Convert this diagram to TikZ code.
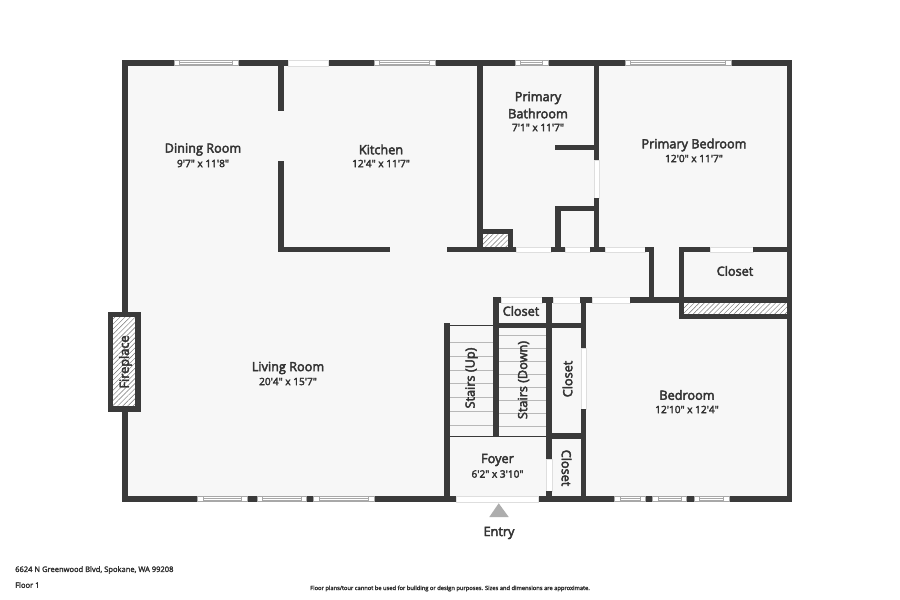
\documentclass[tikz,border=0pt]{standalone}
\usepackage{fontspec}
\usetikzlibrary{patterns.meta}
\newfontfamily\ofontb{Open Sans}
\definecolor{wallc}{HTML}{3A3A3A}
\definecolor{floorc}{HTML}{F7F7F7}
\definecolor{txtc}{HTML}{333333}
\definecolor{trimc}{HTML}{A8A8A8}
\tikzset{
  wallfill/.style={fill=wallc},
  opening/.style={fill=white,draw=black!13,line width=.4pt},
  hatchbox/.style={pattern={Lines[angle=45,distance=3.6pt,line width=.45pt]},pattern color=black!55},
  tread/.style={draw=black!28,line width=.8pt},
  wintrim/.style={draw=trimc,line width=.5pt},
  heavy/.style={execute at begin node={\special{pdf:code 0.2 G 2 Tr #1 w}},execute at end node={\special{pdf:code 0 Tr}}},
  roomname/.style={inner sep=0pt,text=txtc,heavy=0.42,font=\ofontb\fontsize{12.7}{14}\selectfont,align=center},
  roomdim/.style={inner sep=0pt,text=txtc,heavy=0.3,font=\ofontb\fontsize{10.1}{12}\selectfont},
  footer/.style={inner sep=0pt,text=txtc,heavy=0.2,font=\ofontb\fontsize{7.55}{8}\selectfont},
}
\newcommand{\wl}[4]{\fill[wallfill] (#1,#2) rectangle (#3,#4);}
\newcommand{\opn}[4]{\path[opening] (#1,#2) rectangle (#3,#4);}
% horizontal window: x1 x2 ytop
\newcommand{\hwin}[3]{%
  \fill[white] (#1,#3) rectangle (#2,#3+5.7);
  \draw[wintrim] (#1,#3) rectangle (#2,#3+5.7);
  \draw[wintrim] (#1+5.5,#3+1.8) -- (#2-5.5,#3+1.8) (#1+5.5,#3+3.9) -- (#2-5.5,#3+3.9);
  \draw[wintrim] (#1+5.5,#3) -- (#1+5.5,#3+5.7) (#2-5.5,#3) -- (#2-5.5,#3+5.7);
}
\begin{document}
\begin{tikzpicture}[x=1pt,y=-1pt]
\useasboundingbox (0,0) rectangle (900,600);
\fill[white] (0,0) rectangle (900,600);
% floor
\fill[floorc] (125,63) rectangle (789,499);
% fireplace
\fill[white] (113,317) rectangle (135,406);
\fill[hatchbox] (113,317) rectangle (135,406);
\wl{107.7}{311.7}{113.2}{411.7}
\wl{135.2}{311.7}{140.7}{411.7}
\wl{107.7}{311.7}{140.7}{317.2}
\wl{107.7}{406.2}{140.7}{411.7}
% outer walls
\wl{122.3}{60}{792.3}{65.7}
\wl{122.3}{60}{128}{311.7}
\wl{122.3}{411.7}{128}{501.7}
\wl{786.7}{60}{792.3}{501.7}
\wl{122.3}{496}{792.3}{501.7}
% top openings and windows
\hwin{174}{238}{60}
\opn{288.3}{60}{328.3}{65.7}
\hwin{374}{435}{60}
\hwin{515}{548}{60}
\hwin{625}{731}{60}
% bottom windows
\hwin{197.7}{247}{496}
\hwin{257}{306.3}{496}
\hwin{313.3}{374}{496}
\hwin{614.3}{645.7}{496}
\hwin{652.3}{686.7}{496}
\hwin{694}{729}{496}
% entry
\opn{456}{496}{537.7}{501.7}
% dining / kitchen
\wl{278.3}{60}{284}{111}
\wl{278.3}{160.7}{284}{252.3}
\wl{278.3}{246.7}{389.7}{252.3}
\wl{447}{246.7}{515.7}{252.3}
% kitchen / bath
\wl{477.3}{60}{483}{252.3}
% hatch closet in bath
\fill[white] (483,234) rectangle (507.7,246.7);
\fill[hatchbox] (483,234) rectangle (507.7,246.7);
\wl{477.3}{228.7}{513}{234}
\wl{507.7}{228.7}{513}{252.3}
% corridor north wall
\opn{515.7}{246.7}{551.3}{252.3}
\wl{551.3}{246.7}{565}{252.3}
\opn{565}{246.7}{590}{252.3}
\wl{590}{246.7}{605.3}{252.3}
\opn{605.3}{246.7}{644.7}{252.3}
\wl{644.7}{246.7}{654.3}{252.3}
\wl{649}{246.7}{654.3}{302.7}
% bath / bedroom
\wl{593.7}{60}{599}{160}
\opn{593.7}{160}{599}{197.7}
\wl{593.7}{197.7}{599}{252.3}
\wl{555}{144.7}{597}{150.3}
\wl{555.3}{205.7}{597}{211}
\wl{555.3}{205.7}{560.7}{252.3}
% right closet
\wl{678.5}{246.7}{710.3}{252.3}
\opn{710.3}{246.7}{752.7}{252.3}
\wl{752.7}{246.7}{790}{252.3}
\wl{678.5}{246.7}{684}{319.3}
\fill[white] (684,302.7) rectangle (787,314);
\fill[hatchbox] (684,302.7) rectangle (787,314);
\wl{678.5}{314}{790}{319.3}
% corridor south wall
\wl{493.3}{297.3}{501.3}{302.7}
\opn{501.3}{297.3}{541.7}{302.7}
\wl{541.7}{297.3}{553.3}{302.7}
\opn{553.3}{297.3}{579.7}{302.7}
\wl{579.7}{297.3}{592.3}{302.7}
\opn{592.3}{297.3}{630.3}{302.7}
\wl{630.3}{297.3}{790}{302.7}
% stairs treads
\foreach \yy in {342.3,356,370,383.3,397.3,411.3,425.3} {\draw[tread] (449.7,\yy) -- (493.3,\yy);}
\foreach \yy in {335.3,348,361,374,387.3,400,413.3,426.7} {\draw[tread] (499,\yy) -- (546,\yy);}
\draw[draw=wallc,line width=.9pt] (449.7,325) -- (493.3,325);
\draw[draw=wallc,line width=.9pt] (449.7,436) -- (546,436);
% stair and closet walls
\wl{444.3}{322.7}{449.7}{501.7}
\wl{493.3}{297.3}{499}{436.5}
\wl{493.3}{323.3}{586.3}{328.3}
\wl{546}{297.3}{551.7}{459}
\opn{546}{459}{551.7}{490.7}
\wl{546}{490.7}{551.7}{501.7}
\wl{580.7}{297.3}{586.3}{348.3}
\opn{580.7}{348.3}{586.3}{409}
\wl{580.7}{409}{586.3}{501.7}
\wl{546}{433.3}{586.3}{438.7}
% entry marker
\fill[black!32] (498.7,503.3) -- (508.7,517) -- (489.3,517) -- cycle;
% labels
\node[roomname] (dining) at (203,149.5) {Dining Room};
\node[roomdim] (diningd) at (203,163.5) {9'7" x 11'8"};
\node[roomname] (kitchen) at (381,149.5) {Kitchen};
\node[roomdim] (kitchend) at (381,163.5) {12'4" x 11'7"};
\node[roomname] (bath1) at (538,98) {Primary};
\node[roomname] (bath2) at (538,113.5) {Bathroom};
\node[roomdim] (bathd) at (538,127.5) {7'1" x 11'7"};
\node[roomname] (pbed) at (694,145) {Primary Bedroom};
\node[roomdim] (pbedd) at (694,158.5) {12'0" x 11'7"};
\node[roomname] (living) at (288,368) {Living Room};
\node[roomdim] (livingd) at (288,381.5) {20'4" x 15'7"};
\node[roomname] (bed) at (687,395) {Bedroom};
\node[roomdim] (bedd) at (687,409.5) {12'10" x 12'4"};
\node[roomname] (clos1) at (735,271) {Closet};
\node[roomname] (clos2) at (521,311) {Closet};
\node[roomname,rotate=90] (clos3) at (567.5,379) {Closet};
\node[roomname,rotate=270] (clos4) at (566.5,468) {Closet};
\node[roomname,rotate=90] (sup) at (471.5,378) {Stairs (Up)};
\node[roomname,rotate=90] (sdown) at (523.5,380) {Stairs (Down)};
\node[roomname] (foyer) at (497.5,460) {Foyer};
\node[roomdim] (foyerd) at (497.5,474) {6'2" x 3'10"};
\node[roomname] (entry) at (499,533) {Entry};
\node[roomname,rotate=90] (fire) at (125.5,362) {Fireplace};
\node[footer,anchor=west] (addr) at (15,570) {6624 N Greenwood Blvd, Spokane, WA 99208};
\node[footer,anchor=west] (floor) at (15,585) {Floor 1};
\node[footer,font=\ofontb\fontsize{5.75}{6}\selectfont] (note) at (450,588.5) {Floor plans/tour cannot be used for building or design purposes. Sizes and dimensions are approximate.};
\end{tikzpicture}
\end{document}
